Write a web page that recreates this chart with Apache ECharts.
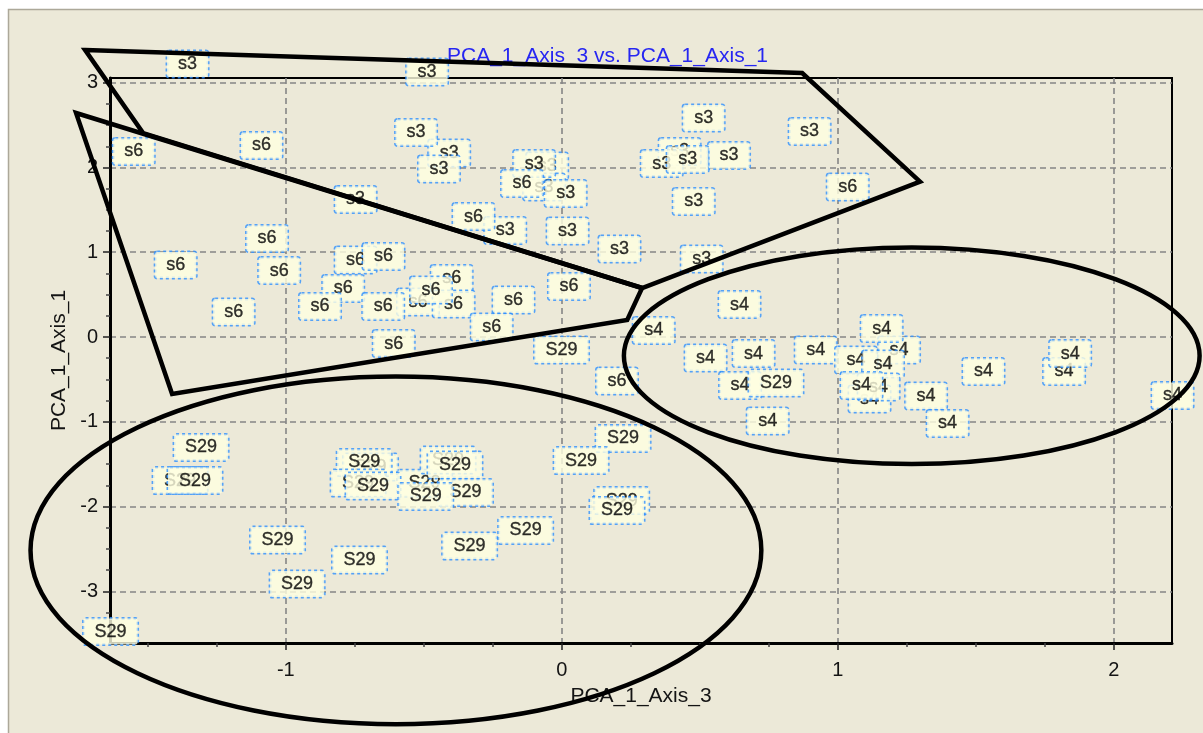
<!DOCTYPE html>
<html>
<head>
<meta charset="utf-8">
<script src="https://cdn.jsdelivr.net/npm/echarts@6/dist/echarts.min.js"></script>
<style>
  html, body { margin: 0; padding: 0; background: #ffffff; }
  #chart { width: 1203px; height: 733px; }
</style>
</head>
<body>
<div id="chart"></div>
<script>
// Axis titles and labels
const chartTitle = 'PCA_1_Axis_3 vs. PCA_1_Axis_1';
const xName = 'PCA_1_Axis_3';
const yName = 'PCA_1_Axis_1';
const groupNames = ['s3', 's6', 's4', 'S29'];

// Axis extents and tick values
const xRange = [-1.637, 2.211];
const yRange = [-3.609, 3.055];
const xMajor = [-1, 0, 1, 2];
const yMajor = [-3, -2, -1, 0, 1, 2, 3];
const xMinor = [-1.5, -1.25, -0.75, -0.5, -0.25, 0.25, 0.5, 0.75, 1.25, 1.5, 1.75];
const yMinor = [-3.5, -3.25, -2.75, -2.5, -2.25, -1.75, -1.5, -1.25, -0.75, -0.5, -0.25,
                0.25, 0.5, 0.75, 1.25, 1.5, 1.75, 2.25, 2.5, 2.75];

// Sample scores [Axis_3, Axis_1], listed in drawing order
const s3Points = [
  [-0.053, 2.017], [-0.064, 1.769], [-0.100, 2.046], [0.014, 1.693],
  [-0.408, 2.170], [-0.528, 2.412], [-0.445, 1.982], [-1.356, 3.220],
  [-0.488, 3.126], [-0.747, 1.622], [-0.205, 1.256], [0.021, 1.250],
  [0.209, 1.038], [0.514, 2.583], [0.898, 2.424], [0.427, 2.188],
  [0.362, 2.046], [0.606, 2.141], [0.456, 2.094], [0.478, 1.598],
  [0.507, 0.920]
];
const s6Points = [
  [-1.551, 2.188], [-1.088, 2.259], [-1.068, 1.162], [-1.399, 0.849],
  [-1.024, 0.784], [-1.189, 0.295], [-0.747, 0.908], [-0.646, 0.950],
  [-0.792, 0.572], [-0.876, 0.360], [-0.521, 0.413], [-0.399, 0.690],
  [-0.392, 0.389], [-0.647, 0.360], [-0.474, 0.554], [-0.175, 0.436],
  [0.026, 0.596], [-0.254, 0.118], [-0.609, -0.077], [-0.320, 1.421],
  [-0.144, 1.811], [1.036, 1.769], [0.200, -0.519]
];
const s4Points = [
  [0.644, 0.383], [0.333, 0.077], [0.521, -0.248], [0.695, -0.195],
  [0.920, -0.153], [0.646, -0.572], [0.746, -0.991], [1.222, -0.153],
  [1.066, -0.271], [1.159, 0.100], [1.164, -0.318], [1.115, -0.731],
  [1.148, -0.590], [1.086, -0.572], [1.320, -0.696], [1.398, -1.020],
  [1.528, -0.407], [1.820, -0.407], [1.842, -0.195], [2.213, -0.690]
];
const s29Points = [
  [-0.001, -0.153], [0.776, -0.543], [0.222, -1.197], [0.070, -1.457],
  [0.217, -1.929], [0.200, -2.046], [-1.307, -1.303], [-1.383, -1.693],
  [-1.329, -1.693], [-0.693, -1.533], [-0.716, -1.480], [-0.738, -1.722],
  [-0.497, -1.726], [-0.684, -1.757], [-0.412, -1.451], [-0.387, -1.510],
  [-0.349, -1.834], [-0.493, -1.881], [-0.131, -2.282], [-0.334, -2.465],
  [-1.030, -2.394], [-0.733, -2.630], [-0.959, -2.913], [-1.635, -3.474]
];

// Hand-drawn group outlines, in data coordinates
const s3Hull = [[-1.727, 3.385], [0.871, 3.114], [1.298, 1.832], [0.291, 0.578], [-1.517, 2.406]];
const s6Hull = [[-1.760, 2.642], [0.291, 0.578], [0.237, 0.201], [-1.412, -0.672]];
// [centre x, centre y, radius x, radius y]
const s4Ellipse = [1.268, -0.221, 1.043, 1.278];
const s29Ellipse = [-0.601, -2.516, 1.324, 2.050];

const FONT = '"Liberation Sans", Arial, sans-serif';
const INK = '#141414';
const OUTLINE = { fill: 'none', stroke: '#000', lineWidth: 4.5, lineJoin: 'miter' };

function labelSeries(name, pts) {
  return {
    type: 'scatter', name: name, data: pts,
    symbolSize: 1, itemStyle: { color: 'rgba(0,0,0,0)' },
    clip: false, silent: true, z: 3,
    label: {
      show: true, position: 'inside', formatter: name,
      fontFamily: FONT, fontSize: 18, lineHeight: 18, color: '#000',
      textBorderColor: '#000', textBorderWidth: 0.35,
      backgroundColor: '#ffffe1', borderColor: '#2e90ff', borderWidth: 1.5,
      borderType: 'dotted', borderRadius: 2, padding: [4, 11]
    },
    emphasis: { disabled: true }
  };
}

// Closed outline through the given vertices, placed with the axes' own scale
function hullSeries(pts) {
  return {
    type: 'custom', data: pts, z: 10, clip: false, silent: true,
    encode: { x: 0, y: 1 },
    renderItem: function (params, api) {
      if (params.dataIndex !== 0) return null;
      const pixels = pts.map(function (p) { return api.coord(p); });
      return { type: 'polygon', shape: { points: pixels }, style: OUTLINE };
    }
  };
}

function ellipseSeries(e) {
  return {
    type: 'custom', data: [e], z: 10, clip: false, silent: true,
    encode: { x: 0, y: 1 },
    renderItem: function (params, api) {
      const c = api.coord([api.value(0), api.value(1)]);
      const s = api.size([api.value(2), api.value(3)]);
      return {
        type: 'ellipse',
        shape: { cx: c[0], cy: c[1], rx: s[0], ry: s[1] },
        style: OUTLINE
      };
    }
  };
}

const gridLine = { show: true, lineStyle: { color: '#858585', width: 1.6, type: [6, 4] } };
const axisText = { fontFamily: FONT, fontSize: 20, color: INK };

const chart = echarts.init(document.getElementById('chart'), null, { renderer: 'canvas' });
chart.setOption({
  animation: false,
  backgroundColor: '#ffffff',
  graphic: [{
    type: 'rect', z: -100, silent: true,
    shape: { x: 8.5, y: 9.5, width: 1210, height: 740 },
    style: { fill: '#ece9d8', stroke: '#aca899', lineWidth: 1.5 }
  }],
  title: {
    text: chartTitle, left: 442, top: 41,
    textStyle: { fontFamily: FONT, fontSize: 21, fontWeight: 'normal', color: '#2626f2' }
  },
  grid: {
    left: 110, right: 31, top: 78, bottom: 90,
    show: true, borderColor: '#000', borderWidth: 2, backgroundColor: 'transparent'
  },
  xAxis: [{
    type: 'value', min: xRange[0], max: xRange[1], position: 'bottom',
    name: xName, nameLocation: 'middle', nameGap: 43,
    nameTextStyle: { fontFamily: FONT, fontSize: 21, color: INK },
    axisLine: { show: true, onZero: false, lineStyle: { color: '#000', width: 3 } },
    axisTick: { show: true, length: 7, customValues: xMajor, lineStyle: { color: '#222', width: 1.5 } },
    axisLabel: Object.assign({ margin: 17, customValues: xMajor }, axisText),
    splitLine: gridLine
  }, {
    type: 'value', min: xRange[0], max: xRange[1], position: 'bottom',
    axisLine: { show: false, onZero: false },
    axisTick: { show: true, length: 4, customValues: xMinor, lineStyle: { color: '#444', width: 1.5 } },
    axisLabel: { show: false }, splitLine: { show: false }
  }],
  yAxis: [{
    type: 'value', min: yRange[0], max: yRange[1], position: 'left',
    name: yName, nameLocation: 'middle', nameGap: 38, nameRotate: 90,
    nameTextStyle: { fontFamily: FONT, fontSize: 21, color: INK },
    axisLine: { show: true, onZero: false, lineStyle: { color: '#000', width: 3 } },
    axisTick: { show: true, length: 7, customValues: yMajor, lineStyle: { color: '#222', width: 1.5 } },
    axisLabel: Object.assign({ margin: 12, customValues: yMajor }, axisText),
    splitLine: gridLine
  }, {
    type: 'value', min: yRange[0], max: yRange[1], position: 'left',
    axisLine: { show: false, onZero: false },
    axisTick: { show: true, length: 4, customValues: yMinor, lineStyle: { color: '#444', width: 1.5 } },
    axisLabel: { show: false }, splitLine: { show: false }
  }],
  series: [
    labelSeries(groupNames[0], s3Points),
    labelSeries(groupNames[1], s6Points),
    labelSeries(groupNames[2], s4Points),
    labelSeries(groupNames[3], s29Points),
    hullSeries(s3Hull),
    hullSeries(s6Hull),
    ellipseSeries(s4Ellipse),
    ellipseSeries(s29Ellipse)
  ]
});
</script>
</body>
</html>
